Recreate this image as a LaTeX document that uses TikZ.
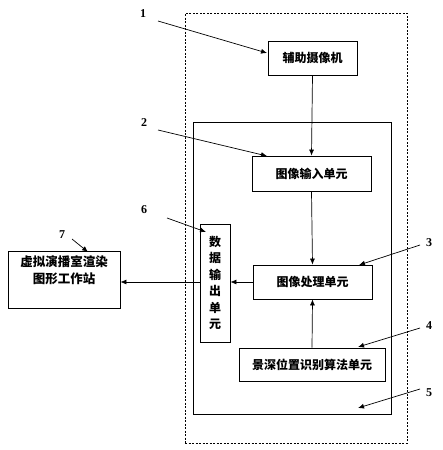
\documentclass[tikz,border=0pt]{standalone}
\usepackage{fontspec}
\newfontfamily\cjk{Noto Sans CJK SC}
\setmainfont{Liberation Serif}
\usetikzlibrary{arrows.meta}
\begin{document}
\begin{tikzpicture}[x=1pt,y=-1pt,
  box/.style={draw,line width=0.8pt,rectangle,inner sep=0pt,font=\cjk\bfseries\fontsize{12}{14}\selectfont},
  conn/.style={line width=0.7pt,-{Latex[length=6pt,width=5pt]}},
  lab/.style={font=\bfseries\fontsize{12}{14}\selectfont,inner sep=0pt},
  ptr/.style={line width=0.7pt,-{Latex[length=6pt,width=5pt]}}]
\useasboundingbox (0,0) rectangle (443,450);
% containers
\node[draw,dash pattern=on 2pt off 1.5pt,line width=0.7pt,minimum width=222pt,minimum height=430pt,inner sep=0pt] (outer) at (296,228) {};
\node[draw,line width=0.8pt,minimum width=198pt,minimum height=292pt,inner sep=0pt] (inner) at (292,268) {};
% units
\node[box,minimum width=89pt,minimum height=34pt] (cam) at (312.5,58) {辅助摄像机};
\node[box,minimum width=119pt,minimum height=35pt] (in) at (311.5,173.5) {图像输入单元};
\node[box,minimum width=119pt,minimum height=34pt] (proc) at (312.5,282) {图像处理单元};
\node[box,minimum width=146pt,minimum height=33pt] (depth) at (312,364.5) {景深位置识别算法单元};
\node[box,minimum width=30pt,minimum height=118pt,align=center,font=\cjk\bfseries\fontsize{12}{16.4}\selectfont] (out) at (215,283) {数\\据\\输\\出\\单\\元};
\node[box,minimum width=112pt,minimum height=57pt] (ws) at (64,279.5) {};
\node[anchor=north,align=center,inner sep=0pt,font=\cjk\bfseries\fontsize{12.5}{17}\selectfont] (wstext) at (64,255) {虚拟演播室渲染\\图形工作站};
% connectors
\draw[conn] (cam.south) -- (in.north);
\draw[conn] (in.south) -- (proc.north);
\draw[conn] (depth.north) -- (proc.south);
\draw[conn] (proc.west) -- (proc.west -| out.east);
\draw[conn] (proc.west -| out.west) -- (proc.west -| ws.east);
% labels
\node[lab] (l1) at (143,14) {1};
\node[lab] (l2) at (144,123) {2};
\node[lab] (l6) at (144,210) {6};
\node[lab] (l7) at (62,235) {7};
\node[lab] (l3) at (429,243) {3};
\node[lab] (l4) at (429,326) {4};
\node[lab] (l5) at (429,393) {5};
\coordinate (s1) at (158,21); \coordinate (e1) at (267,53);
\coordinate (s2) at (158,130); \coordinate (e2) at (267,156);
\coordinate (s6) at (167,218); \coordinate (e6) at (206,232);
\coordinate (s7) at (72,239); \coordinate (e7) at (88,252);
\coordinate (s3) at (420,245); \coordinate (e3) at (359,265);
\coordinate (s4) at (420,328); \coordinate (e4) at (358,347);
\coordinate (s5) at (420,389); \coordinate (e5) at (358,408);
\foreach \i in {1,2,6,7,3,4,5} {\draw[ptr] (s\i) -- (e\i);}
\end{tikzpicture}
\end{document}
